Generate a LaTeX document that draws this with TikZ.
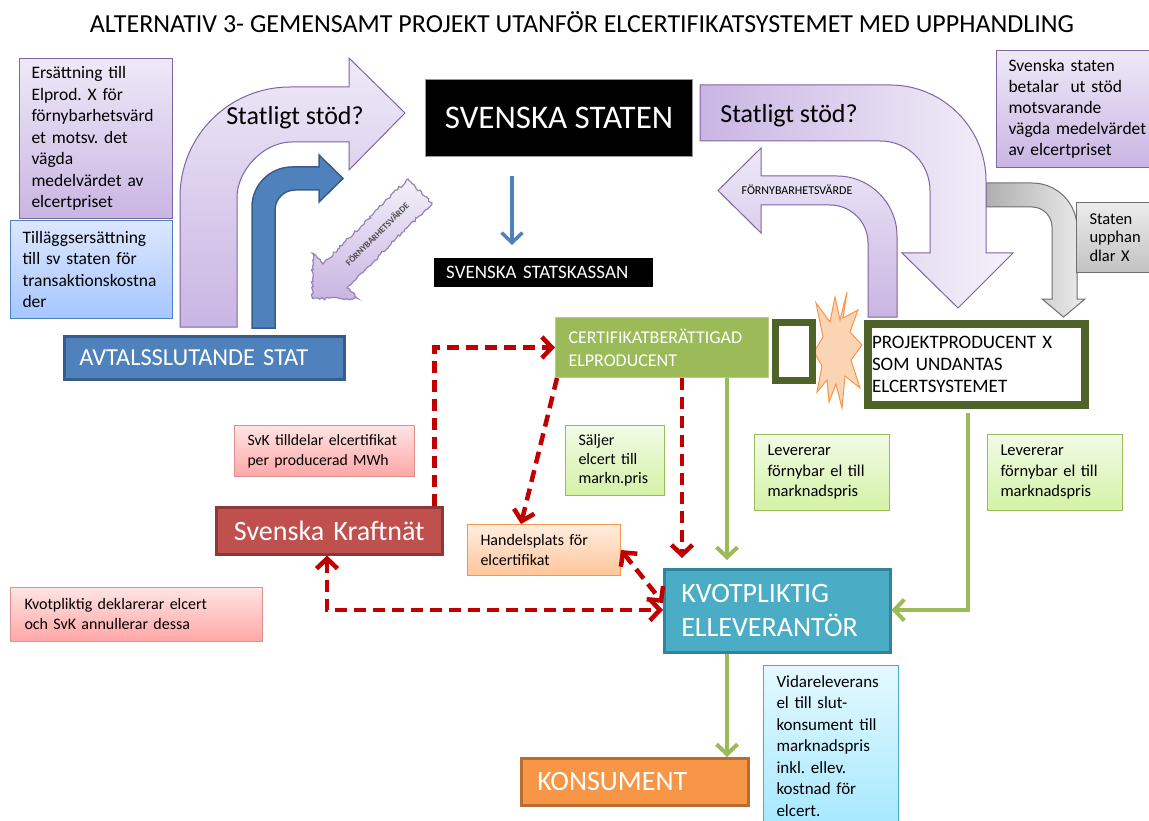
\documentclass[tikz,border=0pt]{standalone}
\usepackage{fontspec}
\setmainfont{Carlito}
\usetikzlibrary{arrows.meta,decorations.pathmorphing}
\hyphenpenalty=10000 \exhyphenpenalty=10000
\frenchspacing
\newcommand\myfs[2]{\fontsize{#1}{#2}\selectfont}
\definecolor{purpB}{HTML}{8064A2}
\definecolor{purpL}{HTML}{EEE9F7}
\definecolor{purpD}{HTML}{C9B5E3}
\definecolor{blueF}{HTML}{4F81BD}
\definecolor{blueB}{HTML}{385D8A}
\definecolor{blueL}{HTML}{DCE7FF}
\definecolor{blueD}{HTML}{A6C6FF}
\definecolor{redF}{HTML}{C0504D}
\definecolor{redB}{HTML}{8C3836}
\definecolor{pinkL}{HTML}{FFE4E4}
\definecolor{pinkD}{HTML}{FFA6A6}
\definecolor{pinkB}{HTML}{D0605D}
\definecolor{grnF}{HTML}{9BBB59}
\definecolor{grnB}{HTML}{B5CE82}
\definecolor{grnDk}{HTML}{4F6228}
\definecolor{grnL}{HTML}{F2FBE6}
\definecolor{grnD}{HTML}{D3F2A6}
\definecolor{oraF}{HTML}{F79646}
\definecolor{oraB}{HTML}{B66D31}
\definecolor{oraL}{HTML}{FFEDE1}
\definecolor{oraD}{HTML}{FFC598}
\definecolor{cyaF}{HTML}{4BACC6}
\definecolor{cyaB}{HTML}{31849B}
\definecolor{cyaL}{HTML}{E4F9FF}
\definecolor{cyaD}{HTML}{A6E8FF}
\definecolor{grayL}{HTML}{ECECEC}
\definecolor{grayD}{HTML}{C2C2C2}
\definecolor{grayB}{HTML}{6F6F6F}
\definecolor{dashred}{HTML}{C00000}
\definecolor{boomF}{HTML}{FBD4B4}
\tikzset{
  note/.style={anchor=north west, align=left, inner ysep=0pt, line width=1pt},
  purpnote/.style={note, draw=purpB, top color=purpL, bottom color=purpD},
  bluenote/.style={note, draw=blueF, top color=blueL, bottom color=blueD},
  pinknote/.style={note, draw=pinkB!70, top color=pinkL, bottom color=pinkD},
  grnnote/.style={note, draw=grnF, top color=grnL, bottom color=grnD},
  oranote/.style={note, draw=oraF, top color=oraL, bottom color=oraD},
  cyanote/.style={note, draw=cyaF, top color=cyaL, bottom color=cyaD},
  graynote/.style={note, draw=grayB, top color=grayL, bottom color=grayD},
  solidbox/.style={anchor=north west, align=left, inner ysep=0pt, line width=2.5pt, text=white},
  bigarrow/.style={draw=purpB, line width=1pt},
  tipb/.tip={Straight Barb[length=10pt, width=21pt]},
  reddash/.style={draw=dashred, line width=4.5pt, dash pattern=on 12pt off 7pt},
  greenline/.style={draw=grnF, line width=4pt},
  blueline/.style={draw=blueF, line width=3.5pt},
}
\begin{document}
\begin{tikzpicture}[x=1pt,y=-1pt]
\useasboundingbox (0,0) rectangle (1149,821);
\clip (0,0) rectangle (1149,821);
\fill[white] (0,0) rectangle (1149,821);

% title
\node[font={\myfs{26}{30}}] (title) at (582,22) {ALTERNATIV 3- GEMENSAMT PROJEKT UTANFÖR ELCERTIFIKATSYSTEMET MED UPPHANDLING};

% ---------- big left bent arrow ----------
\path[bigarrow, top color=purpL, bottom color=purpD]
  (180,327) -- (180,197) .. controls (180,136) and (229,87) .. (290,87)
  -- (349,87) -- (349,58) -- (405,113) -- (349,170) -- (349,142) -- (292,142)
  .. controls (262,142) and (237,172) .. (237,197) -- (237,327) -- cycle;
\node[font={\myfs{26}{30}}] (stod1) at (295,118) {Statligt stöd?};

% blue bent arrow
\path[draw=blueB, line width=1.5pt, fill=blueF]
  (252,328) -- (252,207) .. controls (252,185) and (270,167) .. (292,167)
  -- (319,167) -- (319,155) -- (343,178.5) -- (319,202) -- (319,190) -- (295,190)
  .. controls (284,190) and (275,199) .. (275,210) -- (275,328) -- cycle;

% fuzzy diagonal arrow
\path[draw=purpB!80, line width=1.2pt, top color=purpL!70!white, bottom color=purpD,
      decorate, decoration={random steps, segment length=2.5pt, amplitude=1.3pt}]
  (408,179) -- (323,264) -- (312.5,253.3) -- (312.5,298.5) -- (357.7,298.5)
  -- (347,288) -- (432,203) -- cycle;
\node[rotate=45, font={\myfs{9}{10}\bfseries}, text=black!70] (fuzzy) at (377,234) {FÖRNYBARHETSVÄRDE};

% gray bent arrow
\path[draw=grayB, line width=1pt, left color=grayD!90!black, right color=grayL]
  (986,183) -- (1032,183) .. controls (1057,183) and (1077,203) .. (1077,228)
  -- (1077,299) -- (1085,299) -- (1063.5,317) -- (1042,299) -- (1052,299)
  -- (1052,227) .. controls (1052,216) and (1043,207) .. (1032,207) -- (986,207) -- cycle;

% big right bent arrow
\path[bigarrow, left color=purpD, right color=purpL!60!white]
  (700,85) -- (890,85) .. controls (943,85) and (986,128) .. (986,181)
  -- (986,253) -- (1013,253) -- (958,308) -- (902,253) -- (930,253) -- (930,191)
  .. controls (930,163) and (908,141) .. (880,141) -- (700,141) -- cycle;
\node[font={\myfs{26}{30}}] (stod2) at (789,116) {Statligt stöd?};

% FÖRNYBARHETSVÄRDE arrow
\path[bigarrow, top color=purpL, bottom color=purpD]
  (897,317) -- (897,236) .. controls (897,203) and (870,176) .. (837,176)
  -- (761,176) -- (761,148) -- (718,190.5) -- (761,233) -- (761,205) -- (830,205)
  .. controls (851,205) and (868,222) .. (868,243) -- (868,317) -- cycle;
\node[font={\myfs{12}{14}}] (forn) at (797,190) {FÖRNYBARHETSVÄRDE};

% ---------- notes ----------
\node[purpnote, font={\myfs{17.5}{21.5}}, text width=129pt, inner xsep=12pt, minimum height=160pt] (ers) at (19,58)
  {Ersättning till\\Elprod. X för\\förnybarhetsvärd\\et motsv. det\\vägda\\medelvärdet av\\elcertpriset};
\node[bluenote, font={\myfs{17.5}{21.5}}, text width=138pt, inner xsep=12pt, minimum height=98pt] (till) at (10,220)
  {Tilläggsersättning\\till sv staten för\\transaktionskostna\\der};
\node[purpnote, font={\myfs{17.5}{21}}, text width=150pt, inner xsep=12pt, minimum height=117pt] (sstaten) at (996,50)
  {Svenska staten\\betalar\ \ ut stöd\\motsvarande\\vägda medelvärdet\\av elcertpriset};
\node[graynote, font={\myfs{16.5}{18.5}}, text width=64pt, inner xsep=13pt, minimum height=70pt] (upphan) at (1076,202)
  {Staten\\upphan\\dlar X};

% ---------- main boxes ----------
\node[solidbox, fill=blueF, draw=blueB, font={\myfs{24.4}{27}}, text width=250pt, inner xsep=15pt, minimum height=43pt] (avtal) at (63,335)
  {AVTALSSLUTANDE STAT};
\node[anchor=north west, fill=black, draw=black!40, line width=1pt, text=white, font={\myfs{33}{36}}, minimum width=267pt, minimum height=77pt, inner sep=0pt] (staten) at (425,79)
  {SVENSKA STATEN};
\node[anchor=north west, fill=black, text=white, font={\myfs{19}{22}}, align=left, text width=195pt, inner xsep=12pt, inner ysep=0pt, minimum height=29pt] (kassan) at (434,258)
  {SVENSKA STATSKASSAN};

% starburst
\path[draw=oraF, line width=1pt, fill=boomF]
  (847,292) -- (843,318) -- (858,310) -- (850,332) -- (862,345) -- (851,360) -- (860,388)
  -- (845,376) -- (842,408) -- (836,384) -- (829,402) -- (827,380) -- (817,392) -- (822,366)
  -- (814,352) -- (823,337) -- (816,303) -- (830,322) -- (835,297) -- (840,320) -- cycle;

\node[note, fill=grnF, draw=grnB, text=white, font={\myfs{18}{23}}, text width=187pt, inner xsep=13pt, minimum height=60pt] (cert) at (555,317)
  {CERTIFIKATBERÄTTIGAD\\ELPRODUCENT};
\node[anchor=north west, draw=grnDk, fill=white, line width=7pt, minimum width=37pt, minimum height=58pt, inner sep=0pt] (certframe) at (771.5,318.5) {};
\node[anchor=north west, align=left, draw=grnDk, fill=white, line width=8pt, font={\myfs{19}{22}}, text width=209pt, inner xsep=4pt, inner ysep=0pt, minimum height=81pt] (proj) at (864,320)
  {PROJEKTPRODUCENT X\\SOM UNDANTAS\\ELCERTSYSTEMET};

\node[solidbox, fill=redF, draw=redB, font={\myfs{28}{32}}, align=center, text width=226pt, inner xsep=0pt, minimum height=47pt] (kraft) at (215,506)
  {Svenska Kraftnät};
\node[pinknote, font={\myfs{15.7}{20}}, text width=154pt, inner xsep=13pt, minimum height=51pt] (svk) at (234,425)
  {SvK tilldelar elcertifikat\\per producerad MWh};
\node[grnnote, font={\myfs{16}{19}}, text width=73pt, inner xsep=13pt, minimum height=70pt] (salj) at (565,425)
  {Säljer\\elcert till\\markn.pris};
\node[oranote, font={\myfs{16}{20}}, text width=127pt, inner xsep=13pt, minimum height=51pt] (handel) at (467,524)
  {Handelsplats för\\elcertifikat};
\node[grnnote, font={\myfs{16.5}{20.5}}, text width=109pt, inner xsep=13pt, minimum height=76pt] (lev1) at (754,434)
  {Levererar\\förnybar el till\\marknadspris};
\node[grnnote, font={\myfs{16.5}{20.5}}, text width=109pt, inner xsep=13pt, minimum height=76pt] (lev2) at (987,434)
  {Levererar\\förnybar el till\\marknadspris};
\node[solidbox, fill=cyaF, draw=cyaB, font={\myfs{28}{34}}, text width=192pt, inner xsep=17pt, minimum height=83pt] (kvot) at (663,568)
  {KVOTPLIKTIG\\ELLEVERANTÖR};
\node[pinknote, font={\myfs{16}{20}}, text width=224pt, inner xsep=14pt, minimum height=54pt] (dekl) at (10,587)
  {Kvotpliktig deklarerar elcert\\och SvK annullerar dessa};
\node[solidbox, fill=oraF, draw=oraB, font={\myfs{28}{32}}, text width=195pt, inner xsep=16pt, minimum height=47pt] (kons) at (520,757)
  {KONSUMENT};
\node[cyanote, font={\myfs{17}{21.5}}, text width=109pt, inner xsep=13pt, minimum height=161pt] (vidare) at (763,665)
  {Vidareleverans\\el till slut-\\konsument till\\marknadspris\\inkl. ellev.\\kostnad för\\elcert.};

% ---------- connectors ----------
\draw[blueline, -{tipb}, shorten <=19pt, shorten >=13pt] ([xshift=87pt]staten.south west) -- ([xshift=78pt]kassan.north west);

\draw[reddash, -{tipb}] ([xshift=-9pt]kraft.north east) |- (cert.west);
\draw[reddash, -{tipb}] ([xshift=2pt]cert.south west) -- ([xshift=54pt]handel.north west);
\draw[reddash, -{tipb}, shorten >=10pt] ([xshift=127pt]cert.south west) -- ([xshift=19pt]kvot.north west);
\draw[reddash, {tipb}-{tipb}] ([yshift=-26pt]handel.north east) -- ([yshift=-35pt]kvot.north west);
\draw[reddash, {tipb}-{tipb}] ([xshift=112pt]kraft.south west) |- ([yshift=-42pt]kvot.north west);

\draw[greenline, -{tipb}, shorten >=8pt] ([xshift=172pt]cert.south west) -- ([xshift=64pt]kvot.north west);
\draw[greenline, -{tipb}] ([xshift=104pt,yshift=-4pt]proj.south west) |- ([yshift=-42pt]kvot.north east);
\draw[greenline, -{tipb}] ([xshift=64pt]kvot.south west) -- ([xshift=207pt]kons.north west);
\end{tikzpicture}
\end{document}
